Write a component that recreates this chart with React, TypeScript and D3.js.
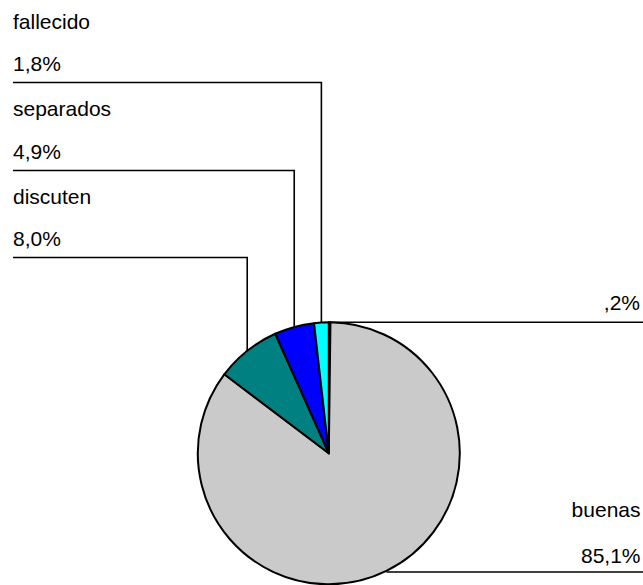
import React from "react";
import * as d3 from "d3";

// Relationship of the parents (share of respondents, %)
const categories = ["", "buenas", "discuten", "separados", "fallecido"];
const values = [0.2, 85.1, 8.0, 4.9, 1.8];
const valueLabels = [",2%", "85,1%", "8,0%", "4,9%", "1,8%"];
const colors = ["#202020", "#cacaca", "#008080", "#0000ff", "#00ffff"];

const W = 643;
const H = 585;
const cx = 328.8;
const cy = 453.3;
const r = 131;
const fontSize = 21;
const font = "'Liberation Sans', Arial, sans-serif";

// label block layout: category baseline, value baseline, leader y
const leftBlocks: Record<string, { name: number; value: number; line: number }> = {
  fallecido: { name: 28.5, value: 70.5, line: 82.5 },
  separados: { name: 116, value: 158.5, line: 170.5 },
  discuten: { name: 203.5, value: 246, line: 257.5 },
};

export default function App() {
  const data = categories.map((c, i) => ({ c, v: values[i], label: valueLabels[i], color: colors[i] }));
  const pie = d3.pie<any>().sort(null).value((d) => d.v).startAngle(0).endAngle(2 * Math.PI);
  const arcs = pie(data);
  const arc = d3.arc<any>().innerRadius(0).outerRadius(r);

  const edgePoint = (a: any) => {
    const m = (a.startAngle + a.endAngle) / 2;
    return [cx + r * Math.sin(m), cy - r * Math.cos(m)];
  };

  return (
    <svg width={W} height={H} style={{ position: "absolute", left: 0, top: 0, background: "#fff" }}>
      <g transform={`translate(${cx},${cy})`}>
        {arcs.map((a, i) => (
          <path key={i} d={arc(a) || ""} fill={a.data.color} stroke="#000" strokeWidth={2} strokeLinejoin="round" />
        ))}
      </g>
      {arcs.map((a, i) => {
        const [px, py] = edgePoint(a);
        const d = a.data;
        const blk = leftBlocks[d.c];
        if (blk) {
          return (
            <g key={i}>
              <polyline points={`13,${blk.line} ${px},${blk.line} ${px},${py}`} fill="none" stroke="#000" strokeWidth={1.6} />
              <text x={13} y={blk.name} fontFamily={font} fontSize={fontSize} fill="#000">{d.c}</text>
              <text x={13} y={blk.value} fontFamily={font} fontSize={fontSize} fill="#000">{d.label}</text>
            </g>
          );
        }
        if (d.c === "") {
          return (
            <g key={i}>
              <line x1={px} y1={py} x2={W} y2={py} stroke="#000" strokeWidth={1.6} />
              <text x={640} y={310} textAnchor="end" fontFamily={font} fontSize={fontSize} fill="#000">{d.label}</text>
            </g>
          );
        }
        return (
          <g key={i}>
            <line x1={px} y1={572} x2={W} y2={572} stroke="#000" strokeWidth={1.6} />
            <text x={640.5} y={517} textAnchor="end" fontFamily={font} fontSize={fontSize} fill="#000">{d.c}</text>
            <text x={640.5} y={562.5} textAnchor="end" fontFamily={font} fontSize={fontSize} fill="#000">{d.label}</text>
          </g>
        );
      })}
    </svg>
  );
}
